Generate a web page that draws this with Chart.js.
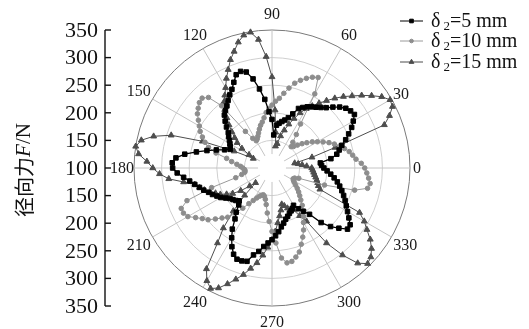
<!DOCTYPE html>
<html>
<head>
<meta charset="utf-8">
<script src="https://cdn.jsdelivr.net/npm/chart.js@4/dist/chart.umd.min.js"></script>
<style>
  html, body { margin: 0; padding: 0; background: #fff; }
  canvas { display: block; }
</style>
</head>
<body>
<canvas id="c" width="529" height="329"></canvas>
<script>
// Force direction in degrees, counter-clockwise from 0
const angleDeg = [
  0, 3, 6, 9, 12, 15, 18, 21, 24, 27, 30, 33, 36, 39, 42, 45, 48, 51, 54, 57,
  60, 63, 66, 69, 72, 75, 78, 81, 84, 87, 90, 93, 96, 99, 102, 105, 108, 111, 114, 117,
  120, 123, 126, 129, 132, 135, 138, 141, 144, 147, 150, 153, 156, 159, 162, 165, 168, 171, 174, 177,
  180, 183, 186, 189, 192, 195, 198, 201, 204, 207, 210, 213, 216, 219, 222, 225, 228, 231, 234, 237,
  240, 243, 246, 249, 252, 255, 258, 261, 264, 267, 270, 273, 276, 279, 282, 285, 288, 291, 294, 297,
  300, 303, 306, 309, 312, 315, 318, 321, 324, 327, 330, 333, 336, 339, 342, 345, 348, 351, 354, 357
];

// Radial force F/N for each gap width, one value per angle above
const force5 = [
  194, 190, 188, 208, 220, 226, 233, 243, 252, 262, 270, 278, 276, 272, 265, 256, 247, 241, 236, 232,
  228, 223, 218, 205, 196, 190, 186, 182, 178, 160, 188, 202, 225, 245, 265, 280, 284, 281, 270, 260,
  253, 246, 239, 234, 229, 220, 211, 202, 197, 192, 188, 185, 183, 192, 206, 222, 240, 260, 275, 281,
  280, 272, 261, 251, 243, 236, 230, 223, 218, 212, 207, 200, 194, 191, 188, 184, 190, 203, 214, 232,
  246, 260, 271, 277, 277, 275, 261, 253, 243, 236, 230, 223, 216, 208, 202, 196, 192, 188, 185, 182,
  178, 188, 197, 208, 233, 250, 263, 276, 275, 266, 258, 251, 245, 239, 233, 227, 221, 214, 207, 200
];
const force10 = [
  268, 262, 253, 248, 243, 236, 229, 221, 213, 204, 195, 187, 178, 170, 162, 155, 152, 160, 175, 195,
  255, 284, 280, 274, 267, 259, 248, 237, 227, 221, 214, 208, 201, 192, 185, 180, 174, 168, 163, 159,
  157, 164, 182, 245, 272, 279, 277, 272, 267, 259, 252, 246, 238, 230, 221, 205, 184, 174, 164, 157,
  153, 150, 149, 150, 156, 168, 215, 265, 280, 280, 276, 265, 256, 249, 238, 228, 220, 206, 190, 177,
  168, 161, 156, 153, 151, 153, 158, 167, 182, 197, 215, 236, 264, 274, 273, 267, 260, 248, 237, 226,
  214, 205, 196, 187, 178, 171, 165, 159, 153, 148, 145, 143, 145, 152, 200, 255, 277, 280, 276, 272
];
const force15 = [
  172, 163, 155, 148, 142, 175, 220, 318, 333, 345, 347, 337, 323, 309, 295, 283, 270, 257, 245, 234,
  224, 212, 198, 185, 172, 160, 145, 140, 165, 205, 265, 302, 334, 349, 346, 336, 322, 310, 295, 282,
  268, 257, 248, 236, 222, 210, 198, 187, 178, 165, 148, 138, 175, 235, 292, 322, 342, 350, 343, 327,
  316, 304, 288, 262, 243, 236, 229, 220, 212, 205, 195, 185, 170, 152, 140, 170, 205, 240, 268, 318,
  336, 345, 338, 325, 312, 300, 286, 274, 259, 244, 230, 215, 200, 188, 178, 168, 172, 178, 182, 185,
  200, 215, 268, 303, 332, 345, 341, 332, 320, 305, 293, 278, 195, 190, 187, 184, 181, 178, 176, 174
];

const gapNames = ['5 mm', '10 mm', '15 mm'];
const radialTicks = [350, 300, 250, 200, 150, 100, 150, 200, 250, 300, 350];
const angleTicks = [0, 30, 60, 90, 120, 150, 180, 210, 240, 270, 300, 330];

// Chart.js walks the radar clockwise; reorder so angles run counter-clockwise from the right
const n = angleDeg.length;
const step = 360 / n;
const order = angleDeg.map((_, i) => (n - i) % n);
const pick = arr => order.map(k => arr[k]);

const styles = [
  { color: '#000000', line: '#000000', point: 'rect', radius: 3.2, width: 1.3 },
  { color: '#8d8d8d', line: '#9a9a9a', point: 'circle', radius: 2.3, width: 1 },
  { color: '#4d4d4d', line: '#4d4d4d', point: 'triangle', radius: 3.4, width: 1 }
];
const seriesData = [force5, force10, force15];

const labelGap = { 0: 7, 30: 11, 180: 12 };

const decor = {
  id: 'decor',
  beforeDatasetsDraw(chart) {
    const s = chart.scales.r, ctx = chart.ctx;
    ctx.save();
    ctx.fillStyle = '#ffffff';
    ctx.beginPath();
    ctx.arc(s.xCenter, s.yCenter, 14, 0, Math.PI * 2);
    ctx.fill();
    ctx.restore();
  },
  afterDraw(chart) {
    const s = chart.scales.r, ctx = chart.ctx;
    ctx.save();

    // angle labels round the outer ring
    ctx.font = '16px "Liberation Serif"';
    ctx.fillStyle = '#1a1a1a';
    ctx.textAlign = 'center';
    ctx.textBaseline = 'middle';
    angleTicks.forEach(a => {
      const idx = Math.round((360 - a) / step) % n;
      const gap = labelGap[a] !== undefined ? labelGap[a] : 16;
      const p = s.getPointPosition(idx, s.drawingArea + gap);
      ctx.fillText(String(a), p.x, p.y + 1);
    });

    // vertical force axis on the left, mirrored about the centre value
    const x0 = 105;
    const dMax = s.getDistanceFromCenterForValue(350);
    ctx.strokeStyle = '#111';
    ctx.lineWidth = 1.4;
    ctx.beginPath();
    ctx.moveTo(x0, s.yCenter - dMax);
    ctx.lineTo(x0, s.yCenter + dMax);
    ctx.stroke();
    ctx.font = '22px "Liberation Serif"';
    ctx.textAlign = 'right';
    ctx.fillStyle = '#111';
    const mid = (radialTicks.length - 1) / 2;
    radialTicks.forEach((v, i) => {
      const d = s.getDistanceFromCenterForValue(v);
      const y = s.yCenter + (i < mid ? -d : d);
      ctx.beginPath();
      ctx.moveTo(x0, y);
      ctx.lineTo(x0 + 6, y);
      ctx.stroke();
      ctx.fillText(String(v), x0 - 7, y + 1);
    });

    // axis title, rotated
    ctx.save();
    ctx.translate(24, 170);
    ctx.rotate(-Math.PI / 2);
    ctx.textAlign = 'left';
    ctx.textBaseline = 'middle';
    const parts = [
      { t: '径向力', f: '20px "Noto Sans CJK SC"' },
      { t: 'F', f: 'italic 21px "Liberation Serif"' },
      { t: '/N', f: '21px "Liberation Serif"' }
    ];
    let total = 0;
    parts.forEach(p => { ctx.font = p.f; p.w = ctx.measureText(p.t).width; total += p.w; });
    let x = -total / 2;
    parts.forEach(p => { ctx.font = p.f; ctx.fillText(p.t, x, 0); x += p.w; });
    ctx.restore();

    // legend
    const rows = [21, 41, 62];
    rows.forEach((y, i) => {
      const st = styles[i];
      ctx.strokeStyle = st.line;
      ctx.lineWidth = 1;
      ctx.beginPath();
      ctx.moveTo(400, y);
      ctx.lineTo(423, y);
      ctx.stroke();
      ctx.fillStyle = st.color;
      ctx.strokeStyle = st.color;
      Chart.helpers.drawPoint(ctx, { pointStyle: st.point, radius: st.radius * 0.8, rotation: 0, borderWidth: 1 }, 411.5, y);
      ctx.fillStyle = '#111';
      ctx.textAlign = 'left';
      ctx.textBaseline = 'middle';
      ctx.font = '20px "Liberation Serif"';
      ctx.fillText('δ', 431, y + 1);
      let xx = 431 + ctx.measureText('δ').width + 3;
      ctx.font = '13px "Liberation Serif"';
      ctx.fillText('2', xx, y + 6);
      xx += ctx.measureText('2').width;
      ctx.font = '20px "Liberation Serif"';
      ctx.fillText('=' + gapNames[i], xx, y + 1);
    });

    ctx.restore();
  }
};

new Chart(document.getElementById('c'), {
  type: 'radar',
  data: {
    labels: pick(angleDeg),
    datasets: seriesData.map((arr, i) => ({
      label: 'δ2=' + gapNames[i],
      data: pick(arr),
      borderColor: styles[i].line,
      borderWidth: styles[i].width,
      backgroundColor: styles[i].color,
      pointBackgroundColor: styles[i].color,
      pointBorderColor: styles[i].color,
      pointBorderWidth: 1,
      pointStyle: styles[i].point,
      pointRadius: styles[i].radius,
      fill: false,
      tension: 0
    }))
  },
  options: {
    responsive: false,
    devicePixelRatio: 1,
    animation: false,
    layout: { padding: { left: 134, top: 30, right: 118, bottom: 22 } },
    plugins: { legend: { display: false }, tooltip: { enabled: false } },
    scales: {
      r: {
        min: 100,
        max: 350,
        startAngle: 90,
        ticks: { stepSize: 50, display: false },
        pointLabels: { display: false },
        grid: {
          circular: true,
          color: ctx => ctx.tick && ctx.tick.value === 350 ? '#7a7a7a' : '#cfcfcf',
          lineWidth: 1
        },
        angleLines: {
          display: true,
          color: ctx => (ctx.index % 10 === 0 ? '#c4c4c4' : 'rgba(0,0,0,0)'),
          lineWidth: 1
        }
      }
    }
  },
  plugins: [decor]
});
</script>
</body>
</html>
